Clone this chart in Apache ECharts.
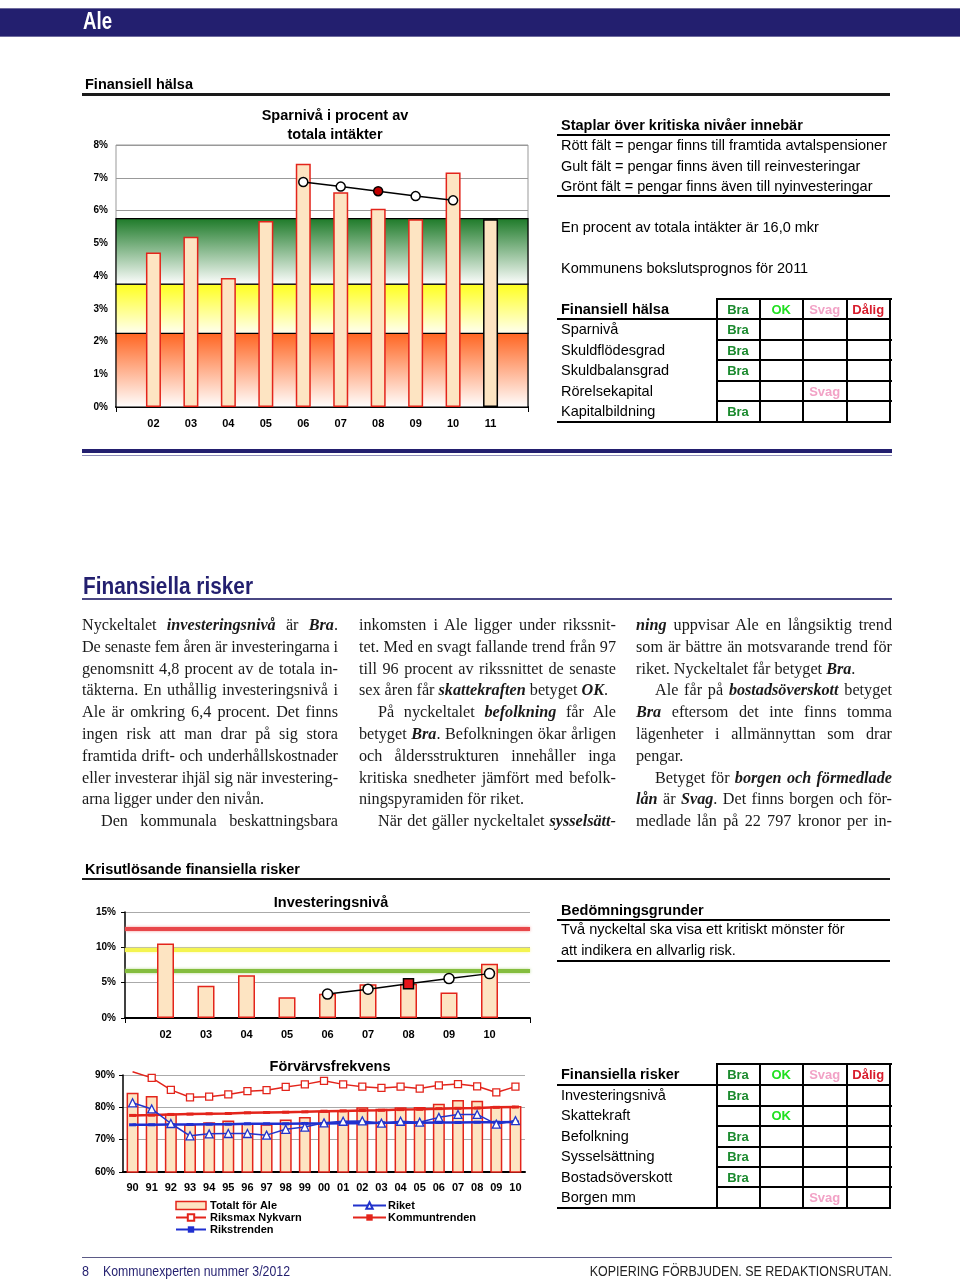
<!DOCTYPE html>
<html>
<head>
<meta charset="utf-8">
<script src="https://cdn.jsdelivr.net/npm/echarts@6/dist/echarts.min.js"></script>
<style>
html,body{margin:0;padding:0;background:#fff;}
#page{position:relative;width:960px;height:1282px;overflow:hidden;font-family:"Liberation Sans",Arial,sans-serif;}
#chart{position:absolute;left:0;top:0;width:960px;height:1282px;z-index:0;}
#overlay{position:absolute;left:0;top:0;width:960px;height:1282px;z-index:2;pointer-events:none;}
.t{position:absolute;white-space:nowrap;color:#000;}
.hl{position:absolute;}
.art{position:absolute;white-space:nowrap;font-family:"Liberation Serif","Times New Roman",serif;font-size:16.2px;line-height:22px;height:22px;color:#1a1a1a;}
.art b i, .art i b{font-weight:bold;font-style:italic;}
</style>
</head>
<body>
<div id="page">
  <div id="chart"></div>
  <div id="overlay"></div>
</div>
<script>
// ---------------- DATA ----------------
// Sparnivå i procent av totala intäkter
const sparYears = ['02','03','04','05','06','07','08','09','10','11'];
const sparValues = [4.72, 5.20, 3.94, 5.68, 7.43, 6.56, 6.05, 5.73, 7.16, 5.73];
const sparForecastYear = '11';
const sparAvgYears = ['06','07','08','09','10'];
const sparAvg = [6.87, 6.73, 6.59, 6.44, 6.31];
const sparHighlightYear = '08';
const sparBands = [2.25, 3.75, 5.75];          // red / yellow / green upper limits
const sparAxis = {min: 0, max: 8, step: 1};

// Investeringsnivå
const invYears = ['02','03','04','05','06','07','08','09','10'];
const invValues = [10.55, 4.55, 6.05, 2.95, 3.42, 4.78, 4.83, 3.60, 7.69];
const invAvgYears = ['06','07','08','09','10'];
const invAvg = [3.38, 4.08, 4.83, 5.58, 6.28];
const invHighlightYear = '08';
const invLevels = [12.66, 9.66, 6.70];          // red, yellow, green
const invAxis = {min: 0, max: 15, step: 5};

// Förvärvsfrekvens
const ffYears = ['90','91','92','93','94','95','96','97','98','99','00','01','02','03','04','05','06','07','08','09','10'];
const ffAle      = [84.5, 83.5, 78.0, 74.7, 75.4, 75.9, 75.0, 74.8, 76.2, 77.0, 78.8, 79.0, 80.0, 79.6, 80.0, 80.1, 81.1, 82.3, 82.0, 80.3, 80.4];
const ffRiksmax  = [91.0, 89.1, 85.4, 83.1, 83.3, 84.0, 85.0, 85.3, 86.3, 87.1, 88.2, 87.1, 86.4, 86.0, 86.4, 85.8, 86.8, 87.2, 86.5, 84.6, 86.4];
const ffRiket    = [81.4, 79.5, 75.0, 71.2, 71.8, 71.9, 71.9, 71.4, 73.2, 73.9, 75.2, 75.7, 75.8, 75.1, 75.7, 75.4, 76.9, 77.8, 77.8, 74.8, 75.9];
const ffKommun   = [77.5, 77.6, 77.8, 77.9, 78.0, 78.1, 78.3, 78.4, 78.5, 78.6, 78.8, 78.9, 79.0, 79.1, 79.3, 79.4, 79.6, 79.7, 79.8, 80.0, 80.1];
const ffRikstrend= [74.6, 74.6, 74.7, 74.7, 74.8, 74.8, 74.9, 74.9, 74.9, 75.0, 75.0, 75.1, 75.1, 75.2, 75.2, 75.2, 75.3, 75.3, 75.4, 75.4, 75.5];
const ffAxis = {min: 60, max: 90, step: 10};
const ffNames = ['Totalt för Ale','Riket','Riksmax Nykvarn','Kommuntrenden','Rikstrenden'];

// Bedömningstabeller
const gradeNames = ['Bra','OK','Svag','Dålig'];
const healthRows = ['Sparnivå','Skuldflödesgrad','Skuldbalansgrad','Rörelsekapital','Kapitalbildning'];
const healthGrades = [0, 0, 0, 2, 0];
const riskRows = ['Investeringsnivå','Skattekraft','Befolkning','Sysselsättning','Bostadsöverskott','Borgen mm'];
const riskGrades = [0, 1, 0, 0, 0, 2];

// ---------------- STYLE ----------------
const F = '"Liberation Sans", Arial, sans-serif';
const NAVY = '#231f6f';
const PEACH = '#fde4c2';
const BARRED = '#e3241b';
const gradeColors = ['#1b8a2e', '#22e022', '#f2a2c6', '#d81c2c'];
const TXT = 14.5;

// ---------------- CHART ----------------
const chart = echarts.init(document.getElementById('chart'), null, {renderer: 'canvas'});

const spCats = [''].concat(sparYears, ['']);
const spBars = spCats.map(c => {
  const i = sparYears.indexOf(c);
  if (i < 0) return null;
  if (c === sparForecastYear) return {value: sparValues[i], itemStyle: {borderColor: '#000'}};
  return sparValues[i];
});
const spLine = spCats.map(c => {
  const i = sparAvgYears.indexOf(c);
  if (i < 0) return null;
  if (c === sparHighlightYear) return {value: sparAvg[i], itemStyle: {color: '#c00000'}};
  return sparAvg[i];
});

const invCats = [''].concat(invYears, ['']);
const invBars = invCats.map(c => { const i = invYears.indexOf(c); return i < 0 ? null : invValues[i]; });
const invLine = invCats.map(c => {
  const i = invAvgYears.indexOf(c);
  if (i < 0) return null;
  if (c === invHighlightYear) return {value: invAvg[i], symbol: 'rect', symbolSize: 10, itemStyle: {color: '#e8141a'}};
  return invAvg[i];
});

const ffRiksmaxData = ffRiksmax.map((v, i) => i === 0 ? {value: v, symbol: 'none'} : v);

function grad(top, bottom) {
  return new echarts.graphic.LinearGradient(0, 0, 0, 1, [{offset: 0, color: top}, {offset: 1, color: bottom}]);
}

const labelX = {interval: 0, fontSize: 11, fontWeight: 'bold', color: '#000', fontFamily: F};
const labelY = {formatter: '{value}%', fontSize: 10, fontWeight: 'bold', color: '#000', fontFamily: F};
const endTicks = cats => ({show: true, interval: (i) => i === 0 || i === cats.length - 1, length: 5, lineStyle: {color: '#000', width: 1}});
const titleStyle = {fontSize: 14.5, fontWeight: 'bold', color: '#000', fontFamily: F};

const option = {
  animation: false,
  backgroundColor: 'transparent',
  textStyle: {fontFamily: F},
  title: [
    {text: 'Sparnivå i procent av\ntotala intäkter', left: 330, top: 101, textAlign: 'center',
     textStyle: Object.assign({lineHeight: 19}, titleStyle)},
    {text: 'Investeringsnivå', left: 326, top: 890, textAlign: 'center', textStyle: titleStyle},
    {text: 'Förvärvsfrekvens', left: 325, top: 1054, textAlign: 'center', textStyle: titleStyle}
  ],
  grid: [
    {left: 116, top: 145, width: 412, height: 262, show: true, borderColor: '#999', borderWidth: 1, backgroundColor: '#fff'},
    {left: 125, top: 912, width: 405, height: 106},
    {left: 123, top: 1075, width: 402, height: 97}
  ],
  xAxis: [
    {gridIndex: 0, type: 'category', data: spCats, boundaryGap: false,
     axisLine: {lineStyle: {color: '#000', width: 2}}, axisTick: endTicks(spCats),
     axisLabel: Object.assign({margin: 11}, labelX), splitLine: {show: false}},
    {gridIndex: 1, type: 'category', data: invCats, boundaryGap: false,
     axisLine: {lineStyle: {color: '#000', width: 2}}, axisTick: endTicks(invCats),
     axisLabel: Object.assign({margin: 11}, labelX), splitLine: {show: false}},
    {gridIndex: 2, type: 'category', data: ffYears, boundaryGap: true,
     axisLine: {lineStyle: {color: '#000', width: 2}}, axisTick: {show: false},
     axisLabel: Object.assign({margin: 10}, labelX), splitLine: {show: false}}
  ],
  yAxis: [
    {gridIndex: 0, type: 'value', min: sparAxis.min, max: sparAxis.max, interval: sparAxis.step,
     axisLine: {show: false}, axisTick: {show: false},
     axisLabel: Object.assign({margin: 8}, labelY), splitLine: {lineStyle: {color: '#999', width: 1}}},
    {gridIndex: 1, type: 'value', min: invAxis.min, max: invAxis.max, interval: invAxis.step,
     axisLine: {show: true, lineStyle: {color: '#000', width: 1.5}}, axisTick: {show: true, length: 4, lineStyle: {color: '#000'}},
     axisLabel: Object.assign({margin: 9}, labelY), splitLine: {lineStyle: {color: '#aaa', width: 1}}},
    {gridIndex: 2, type: 'value', min: ffAxis.min, max: ffAxis.max, interval: ffAxis.step,
     axisLine: {show: true, lineStyle: {color: '#000', width: 1.5}}, axisTick: {show: true, length: 4, lineStyle: {color: '#000'}},
     axisLabel: Object.assign({margin: 8}, labelY), splitLine: {lineStyle: {color: '#aaa', width: 1}}}
  ],
  legend: [
    {data: [{name: ffNames[0], icon: 'rect', itemStyle: {color: PEACH, borderColor: BARRED, borderWidth: 1.5}}, ffNames[2], ffNames[4]],
     orient: 'vertical', left: 175, top: 1200, itemGap: 1, itemWidth: 30, itemHeight: 8, padding: 0, selectedMode: false,
     textStyle: {fontSize: 11, fontWeight: 'bold', color: '#000', fontFamily: F, padding: [0, 0, 0, -1]}},
    {data: [ffNames[1], ffNames[3]],
     orient: 'vertical', left: 352, top: 1200, itemGap: 1, itemWidth: 33, itemHeight: 8, padding: 0, selectedMode: false,
     textStyle: {fontSize: 11, fontWeight: 'bold', color: '#000', fontFamily: F, padding: [0, 0, 0, -3]}}
  ],
  series: [
    // --- Sparnivå ---
    {type: 'bar', name: 'Sparnivå', xAxisIndex: 0, yAxisIndex: 0, data: spBars, barWidth: 15, z: 2,
     itemStyle: {color: PEACH, borderColor: BARRED, borderWidth: 1.5},
     markArea: {silent: true, z: 1, data: [
       [{yAxis: 0, itemStyle: {color: grad('#ff6420', '#ffffff'), borderColor: '#000', borderWidth: 1.2}}, {yAxis: sparBands[0]}],
       [{yAxis: sparBands[0], itemStyle: {color: grad('#ffff1c', '#fffff2'), borderColor: '#000', borderWidth: 1.2}}, {yAxis: sparBands[1]}],
       [{yAxis: sparBands[1], itemStyle: {color: grad('#1d7a28', '#ffffff'), borderColor: '#000', borderWidth: 1.2}}, {yAxis: sparBands[2]}]
     ]}},
    {type: 'line', name: 'Sparnivå medel', xAxisIndex: 0, yAxisIndex: 0, data: spLine, z: 4,
     symbol: 'circle', symbolSize: 9, showAllSymbol: true,
     lineStyle: {color: '#000', width: 1.5},
     itemStyle: {color: '#fff', borderColor: '#000', borderWidth: 1.5}},
    // --- Investeringsnivå ---
    {type: 'bar', name: 'Investeringsnivå', xAxisIndex: 1, yAxisIndex: 1, data: invBars, barWidth: 17, z: 2,
     itemStyle: {color: PEACH, borderColor: BARRED, borderWidth: 1.5},
     markLine: {silent: true, z: 1, symbol: 'none', label: {show: false}, data: [
       {yAxis: invLevels[0], lineStyle: {color: '#e8474a', width: 4, type: 'solid', shadowColor: 'rgba(240,120,120,0.8)', shadowBlur: 3}},
       {yAxis: invLevels[1], lineStyle: {color: '#f4f450', width: 4, type: 'solid', shadowColor: 'rgba(250,250,150,0.9)', shadowBlur: 3}},
       {yAxis: invLevels[2], lineStyle: {color: '#84bd3e', width: 4, type: 'solid', shadowColor: 'rgba(170,210,120,0.9)', shadowBlur: 3}}
     ]}},
    {type: 'line', name: 'Investeringsnivå medel', xAxisIndex: 1, yAxisIndex: 1, data: invLine, z: 4,
     symbol: 'circle', symbolSize: 10, showAllSymbol: true,
     lineStyle: {color: '#000', width: 1.5},
     itemStyle: {color: '#fff', borderColor: '#000', borderWidth: 1.5}},
    // --- Förvärvsfrekvens ---
    {type: 'bar', name: ffNames[0], xAxisIndex: 2, yAxisIndex: 2, data: ffAle, barWidth: 12, z: 2,
     itemStyle: {color: PEACH, borderColor: BARRED, borderWidth: 1.5}},
    {type: 'line', name: ffNames[2], xAxisIndex: 2, yAxisIndex: 2, data: ffRiksmaxData, z: 5, clip: false,
     symbol: 'rect', symbolSize: 7, showAllSymbol: true,
     lineStyle: {color: BARRED, width: 1.5},
     itemStyle: {color: '#fff', borderColor: BARRED, borderWidth: 1.3}},
    {type: 'line', name: ffNames[3], xAxisIndex: 2, yAxisIndex: 2, data: ffKommun, z: 3,
     symbol: 'rect', symbolSize: [7, 3], showAllSymbol: true,
     lineStyle: {color: BARRED, width: 2.5},
     itemStyle: {color: BARRED, borderWidth: 0}},
    {type: 'line', name: ffNames[4], xAxisIndex: 2, yAxisIndex: 2, data: ffRikstrend, z: 3,
     symbol: 'rect', symbolSize: [7, 3], showAllSymbol: true,
     lineStyle: {color: '#1f2fd0', width: 2.5},
     itemStyle: {color: '#1f2fd0', borderWidth: 0}},
    {type: 'line', name: ffNames[1], xAxisIndex: 2, yAxisIndex: 2, data: ffRiket, z: 5,
     symbol: 'triangle', symbolSize: 8, showAllSymbol: true,
     lineStyle: {color: '#2233cc', width: 1.5},
     itemStyle: {color: '#fff', borderColor: '#2233cc', borderWidth: 1.3}}
  ]
};
chart.setOption(option);

// ---------------- OVERLAY (page text) ----------------
const ov = document.getElementById('overlay');
function el(cls, style, html) {
  const d = document.createElement('div');
  d.className = cls;
  Object.assign(d.style, style);
  if (html != null) d.innerHTML = html;
  ov.appendChild(d);
  return d;
}
function text(x, yc, str, o) {
  o = o || {};
  const fs = o.fs || TXT, lh = Math.round(fs * 1.3);
  const st = {top: (yc - lh / 2) + 'px', fontSize: fs + 'px', lineHeight: lh + 'px',
              fontWeight: o.bold ? 'bold' : 'normal', color: o.color || '#000', fontFamily: o.ff || F};
  if (o.center) { st.left = (x - 60) + 'px'; st.width = '120px'; st.textAlign = 'center'; }
  else if (o.right) { st.right = (960 - x) + 'px'; }
  else { st.left = x + 'px'; }
  const d = el('t', st, str);
  if (o.width) {
    const w = d.getBoundingClientRect().width;
    if (w > 0) { d.style.transformOrigin = o.right ? 'right center' : 'left center'; d.style.transform = 'scaleX(' + (o.width / w) + ')'; }
  }
  return d;
}
function hline(x1, x2, y, th, color) {
  const t = Math.round(y - th / 2);
  el('hl', {left: Math.round(x1) + 'px', top: t + 'px', width: Math.round(x2 - x1) + 'px', height: th + 'px', background: color || '#000'});
}
function vline(x, y1, y2, th, color) {
  el('hl', {left: Math.round(x - th / 2) + 'px', top: Math.round(y1) + 'px', width: th + 'px', height: Math.round(y2 - y1) + 'px', background: color || '#000'});
}

// header bar
el('hl', {left: '0px', top: '8px', width: '960px', height: '28px', background: NAVY});
hline(0, 960, 8, 1, '#6f6c9e');
hline(0, 960, 36, 1, '#6f6c9e');
text(83, 21, 'Ale', {fs: 23, bold: true, color: '#fff', width: 29});

// Finansiell hälsa
text(85, 84, 'Finansiell hälsa', {bold: true, width: 108});
hline(82, 890, 94, 2.5, '#1a1a1a');

// right info block
text(561, 125, 'Staplar över kritiska nivåer innebär', {bold: true});
hline(557, 890, 135, 2);
text(561, 145, 'Rött fält = pengar finns till framtida avtalspensioner');
text(561, 166, 'Gult fält = pengar finns även till reinvesteringar');
text(561, 186, 'Grönt fält = pengar finns även till nyinvesteringar');
hline(557, 890, 196, 2);
text(561, 227, 'En procent av totala intäkter är 16,0 mkr');
text(561, 268, 'Kommunens bokslutsprognos för 2011');

function gradeTable(title, rows, grades, top, headBottom, rowH) {
  const colX = [716.5, 759.5, 803, 846.5, 890];
  const left = 557, right = 891;
  const bottom = headBottom + rows.length * rowH;
  const hc = (top + headBottom) / 2;
  text(561, hc, title, {bold: true});
  gradeNames.forEach((g, i) => text((colX[i] + colX[i + 1]) / 2, hc, g, {bold: true, fs: 13, color: gradeColors[i], center: true}));
  rows.forEach((r, k) => {
    const yc = headBottom + rowH * (k + 0.5);
    text(561, yc, r);
    const gi = grades[k];
    if (gi != null) text((colX[gi] + colX[gi + 1]) / 2, yc, gradeNames[gi], {bold: true, fs: 13, color: gradeColors[gi], center: true});
  });
  hline(colX[0], right, top, 2);
  hline(left, right, headBottom, 2);
  for (let k = 1; k < rows.length; k++) hline(colX[0], right, headBottom + k * rowH, 2);
  hline(left, right, bottom, 2);
  colX.forEach(x => vline(x, top - 1, bottom + 1, 2));
}
gradeTable('Finansiell hälsa', healthRows, healthGrades, 299.3, 319.3, 20.5);

// double rule
hline(82, 892, 451, 3.5, NAVY);
hline(82, 892, 455.5, 1.2, '#8e8cb8');

// Finansiella risker heading
text(83, 585, 'Finansiella risker', {fs: 24, bold: true, color: NAVY, width: 170});
hline(82, 892, 598.5, 2, '#4a4783');

// article text
const BI = s => '<b><i>' + s + '</i></b>';
const col1 = [
  {h: 'Nyckeltalet ' + BI('investeringsnivå') + ' är ' + BI('Bra') + '.', j: 1},
  {h: 'De senaste fem åren är investeringarna i', j: 1},
  {h: 'genomsnitt 4,8 procent av de totala in-', j: 1},
  {h: 'täkterna. En uthållig investeringsnivå i', j: 1},
  {h: 'Ale är omkring 6,4 procent. Det finns', j: 1},
  {h: 'ingen risk att man drar på sig stora', j: 1},
  {h: 'framtida drift- och underhållskostnader', j: 1},
  {h: 'eller investerar ihjäl sig när investering-', j: 1},
  {h: 'arna ligger under den nivån.', j: 0},
  {h: 'Den kommunala beskattningsbara', j: 1, ind: 1}
];
const col2 = [
  {h: 'inkomsten i Ale ligger under rikssnit-', j: 1},
  {h: 'tet. Med en svagt fallande trend från 97', j: 1},
  {h: 'till 96 procent av rikssnittet de senaste', j: 1},
  {h: 'sex åren får ' + BI('skattekraften') + ' betyget ' + BI('OK') + '.', j: 0},
  {h: 'På nyckeltalet ' + BI('befolkning') + ' får Ale', j: 1, ind: 1},
  {h: 'betyget ' + BI('Bra') + '. Befolkningen ökar årligen', j: 1},
  {h: 'och åldersstrukturen innehåller inga', j: 1},
  {h: 'kritiska snedheter jämfört med befolk-', j: 1},
  {h: 'ningspyramiden för riket.', j: 0},
  {h: 'När det gäller nyckeltalet ' + BI('sysselsätt-'), j: 1, ind: 1}
];
const col3 = [
  {h: BI('ning') + ' uppvisar Ale en långsiktig trend', j: 1},
  {h: 'som är bättre än motsvarande trend för', j: 1},
  {h: 'riket. Nyckeltalet får betyget ' + BI('Bra') + '.', j: 0},
  {h: 'Ale får på ' + BI('bostadsöverskott') + ' betyget', j: 1, ind: 1},
  {h: BI('Bra') + ' eftersom det inte finns tomma', j: 1},
  {h: 'lägenheter i allmännyttan som drar', j: 1},
  {h: 'pengar.', j: 0},
  {h: 'Betyget för ' + BI('borgen och förmedlade'), j: 1, ind: 1},
  {h: BI('lån') + ' är ' + BI('Svag') + '. Det finns borgen och för-', j: 1},
  {h: 'medlade lån på 22 797 kronor per in-', j: 1}
];
function column(x, w, lines) {
  lines.forEach((ln, k) => {
    const ind = ln.ind ? 19 : 0;
    const yc = 625 + k * 21.8;
    const d = el('art', {left: (x + ind) + 'px', top: (yc - 11) + 'px', width: (w - ind) + 'px'}, '');
    const s = document.createElement('span');
    s.innerHTML = ln.h;
    d.appendChild(s);
    const avail = w - ind;
    const nat = s.getBoundingClientRect().width;
    const txt = s.textContent;
    if (nat > avail) {
      s.style.letterSpacing = ((avail - nat) / txt.length) + 'px';
    } else if (ln.j) {
      const n = (txt.match(/ /g) || []).length;
      if (n > 0) s.style.wordSpacing = ((avail - nat) / n) + 'px';
    }
  });
}
column(82, 256, col1);
column(359, 257, col2);
column(636, 256, col3);

// Krisutlösande finansiella risker
text(85, 869, 'Krisutlösande finansiella risker', {bold: true, width: 215});
hline(82, 890, 879, 2, '#1a1a1a');

text(561, 910, 'Bedömningsgrunder', {bold: true});
hline(557, 890, 920, 2);
text(561, 929, 'Två nyckeltal ska visa ett kritiskt mönster för');
text(561, 950, 'att indikera en allvarlig risk.');
hline(557, 890, 961, 2);

gradeTable('Finansiella risker', riskRows, riskGrades, 1064, 1085.3, 20.4);

// footer
hline(82, 892, 1258, 1.3, '#5b5a86');
text(82, 1271, '8', {fs: 14, color: NAVY, width: 7});
text(103, 1271, 'Kommunexperten nummer 3/2012', {fs: 14, color: NAVY, width: 187});
text(892, 1271, 'KOPIERING FÖRBJUDEN. SE REDAKTIONSRUTAN.', {fs: 14, color: '#222', width: 302, right: true});
</script>
</body>
</html>
